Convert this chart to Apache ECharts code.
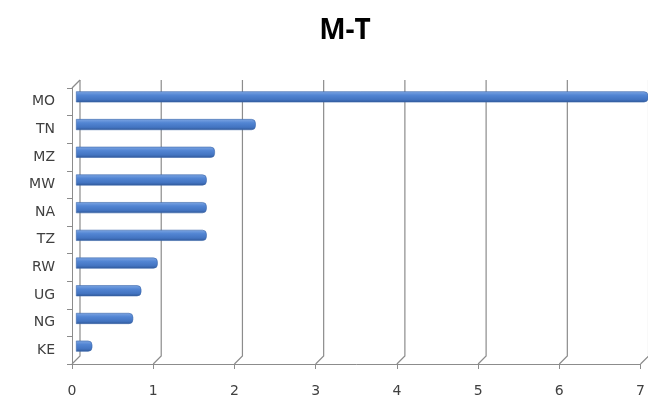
<!DOCTYPE html>
<html>
<head>
<meta charset="utf-8">
<script src="https://cdn.jsdelivr.net/npm/echarts@6/dist/echarts.min.js"></script>
<style>
  html, body { margin: 0; padding: 0; background: #ffffff; }
  #chart { width: 648px; height: 399px; }
</style>
</head>
<body>
<div id="chart"></div>
<script>
// Countries, top to bottom
const countries = ['MO', 'TN', 'MZ', 'MW', 'NA', 'TZ', 'RW', 'UG', 'NG', 'KE'];
// Values for each country (MO runs past the end of the axis)
const values = [7.6, 2.2, 1.7, 1.6, 1.6, 1.6, 1.0, 0.8, 0.7, 0.2];
// Value-axis ticks
const xTicks = [0, 1, 2, 3, 4, 5, 6, 7];

const DEPTH = 8;               // perspective offset of the back wall, px
const LINE = '#8c8c8c';
const TEXT = '#404040';
const FONT = 'DejaVu Sans';

const chart = echarts.init(document.getElementById('chart'));

// Category axis reads top to bottom
const catsDrawn = countries.slice().reverse();
const valsDrawn = values.slice().reverse();

chart.setOption({
  animation: false,
  title: {
    text: 'M-T',
    left: 340,
    top: 12,
    textAlign: 'center',
    textStyle: { fontFamily: 'Open Sans', fontWeight: 'bold', fontSize: 28, color: '#000' }
  },
  grid: [
    // front plane: axes, ticks and labels
    { left: 72, top: 88, width: 572, height: 276 },
    // mid-depth plane where the bars sit
    { left: 76, top: 83, width: 572, height: 277 }
  ],
  xAxis: [
    {
      gridIndex: 0, type: 'value', min: 0, max: 7, interval: 1,
      axisLine: { show: true, lineStyle: { color: LINE } },
      axisTick: { show: true, length: 5, lineStyle: { color: LINE } },
      axisLabel: { color: TEXT, fontFamily: FONT, fontSize: 14, margin: 20,
        formatter: v => xTicks.includes(v) ? String(v) : '' },
      splitLine: { show: false }
    },
    {
      gridIndex: 1, type: 'value', min: 0, max: 7, interval: 1, show: false
    }
  ],
  yAxis: [
    {
      gridIndex: 0, type: 'category', data: catsDrawn,
      axisLine: { show: true, lineStyle: { color: LINE } },
      axisTick: { show: true, length: 5, lineStyle: { color: LINE } },
      axisLabel: { color: TEXT, fontFamily: FONT, fontSize: 14, margin: 17 }
    },
    {
      gridIndex: 1, type: 'category', data: catsDrawn, show: false
    }
  ],
  series: [
    {
      // back-wall gridlines with their floor connectors
      type: 'custom',
      xAxisIndex: 0, yAxisIndex: 0,
      clip: false,
      silent: true,
      z: 1,
      data: xTicks.map(v => [v, 0]),
      renderItem: function (params, api) {
        const rect = params.coordSys;
        const x = api.coord([api.value(0), 0])[0];
        const yb = rect.y + rect.height;
        const yt = rect.y;
        const children = [{
          type: 'polyline',
          shape: { points: [[x, yb], [x + DEPTH, yb - DEPTH], [x + DEPTH, yt - DEPTH]] },
          style: { stroke: LINE, lineWidth: 1.2, fill: null }
        }];
        if (api.value(0) === 0) {
          children.push({
            type: 'line',
            shape: { x1: x, y1: yt, x2: x + DEPTH, y2: yt - DEPTH },
            style: { stroke: LINE, lineWidth: 1.2 }
          });
        }
        return { type: 'group', children: children };
      }
    },
    {
      type: 'bar',
      xAxisIndex: 1, yAxisIndex: 1,
      data: valsDrawn,
      barWidth: 11,
      z: 2,
      itemStyle: {
        borderRadius: [0, 4, 4, 0],
        borderColor: '#3a66aa',
        borderWidth: 0.6,
        color: new echarts.graphic.LinearGradient(0, 0, 0, 1, [
          { offset: 0, color: '#7ea6e3' },
          { offset: 0.35, color: '#5285d3' },
          { offset: 0.75, color: '#4374c1' },
          { offset: 1, color: '#2f5797' }
        ])
      }
    }
  ]
});
</script>
</body>
</html>
